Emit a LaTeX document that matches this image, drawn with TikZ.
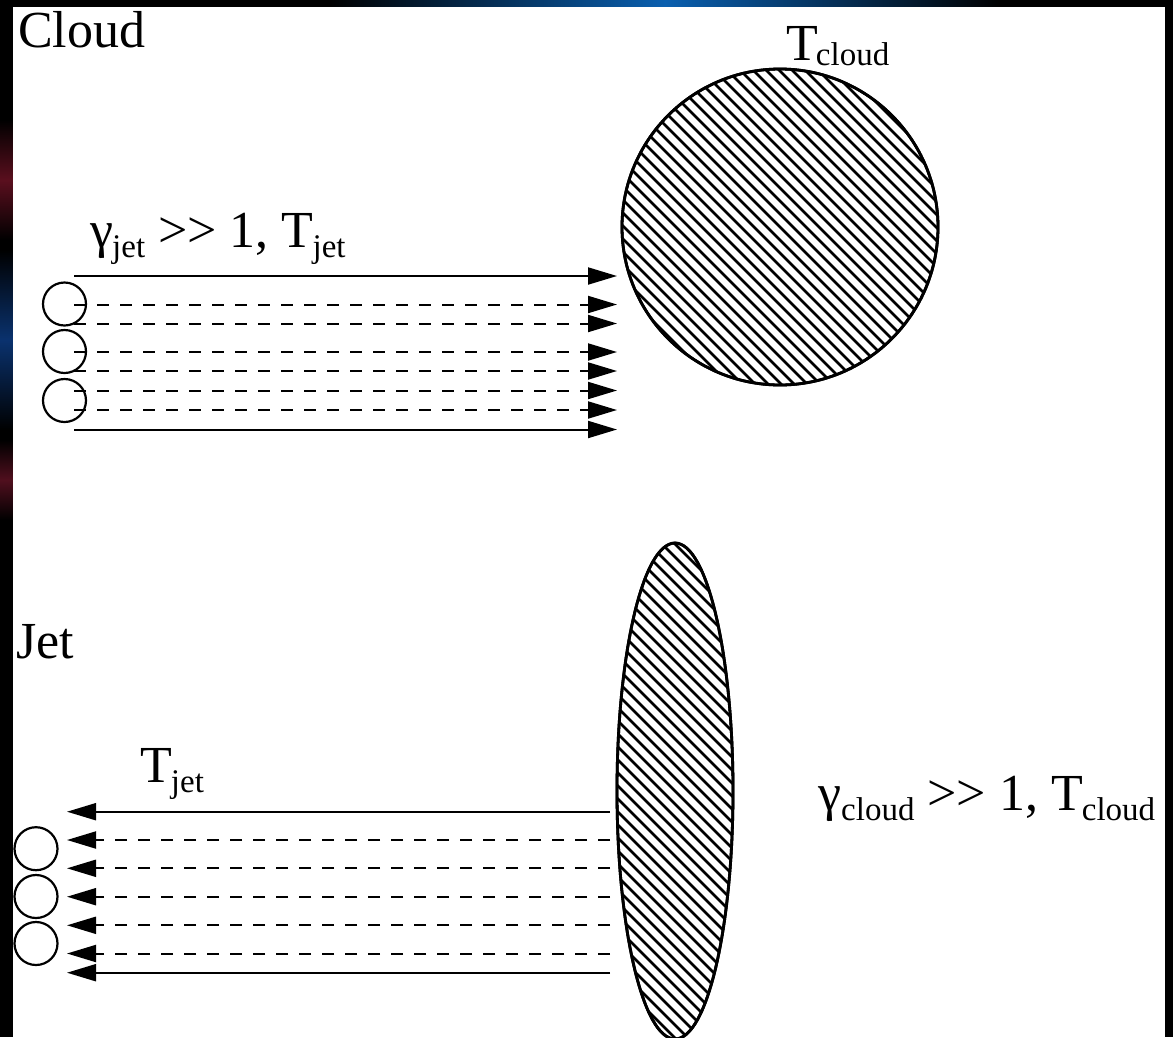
\documentclass[tikz,border=0pt]{standalone}
\usepackage{fontspec}
\setmainfont{Liberation Serif}
\usetikzlibrary{arrows.meta,shapes.geometric}
\newcommand\subtxt[2][10pt]{\raisebox{-#1}{\fontsize{33}{33}\selectfont #2}}
\begin{document}
\begin{tikzpicture}[x=1pt,y=-1pt,
  ray/.style={line width=2pt, black},
  dray/.style={ray, dash pattern=on 12pt off 11pt},
  tipped/.style={-{Triangle[length=29pt,width=17pt]}},
  bead/.style={draw, line width=2.2pt, circle, minimum size=43pt, inner sep=0pt},
  blob/.style={draw, line width=2.8pt, inner sep=0pt},
  hatch/.style={line width=2.8pt, black},
  lbl/.style={anchor=base west, inner sep=0pt, font=\fontsize{52}{52}\selectfont},
]
% background (slide frame)
\fill[black] (0,0) rectangle (1173,1037);
\shade[left color=black, right color=black, middle color={rgb,255:red,10;green,95;blue,175}] (330,0) rectangle (1000,7);
\shade[top color=black, bottom color=black, middle color={rgb,255:red,90;green,15;blue,30}] (0,120) rectangle (13,240);
\shade[top color=black, bottom color=black, middle color={rgb,255:red,10;green,50;blue,110}] (0,250) rectangle (13,430);
\shade[top color=black, bottom color=black, middle color={rgb,255:red,80;green,15;blue,30}] (0,440) rectangle (13,520);
\fill[white] (13,7) rectangle (1165,1037);
\useasboundingbox (0,0) rectangle (1173,1037);

% ---------- upper panel: cloud at rest ----------
\node[lbl] (lcloud) at (18,47) {Cloud};
\node[blob, circle, minimum size=316pt] (cloud) at (780,227) {};
\begin{scope}
  \clip (cloud.center) circle[radius=158];
  \foreach \k in {-32,...,32}
    \draw[hatch] ({780+\k*13-400},{227-400}) -- ++(800,800);
\end{scope}
\node[blob, circle, minimum size=316pt] at (cloud.center) {};
\node[lbl] (tcl) at (786,60) {T\kern-2pt\subtxt[5pt]{cloud}};
\node[lbl] (gjet) at (90,247) {γ\kern-1pt\subtxt{jet} >\kern0pt> 1, T\kern-1pt\subtxt{jet}};

\node[bead] (b1) at (64.5,304) {};
\node[bead] (b2) at (64.5,351.5) {};
\node[bead] (b3) at (64.5,400.5) {};

\foreach \y [count=\i] in {276,304.5,323.5,352,371,390.5,410,429.5} {
  \coordinate (us\i) at (74,\y);
  \coordinate (ue\i) at (617,\y);
}
\foreach \i in {1,8} \draw[ray, tipped] (us\i) -- (ue\i);
\foreach \i in {2,...,7} \draw[dray, tipped] (us\i) -- (ue\i);

% ---------- lower panel: jet at rest ----------
\node[lbl] (ljet) at (16,658) {Jet};
\node[blob, ellipse, minimum width=116pt, minimum height=496pt] (flat) at (675,791) {};
\begin{scope}
  \clip (flat.center) ellipse[x radius=58, y radius=248];
  \foreach \k in {-45,...,45}
    \draw[hatch] ({675-400},{791+\k*13-400}) -- ++(800,800);
\end{scope}
\node[blob, ellipse, minimum width=116pt, minimum height=496pt] at (flat.center) {};
\node[lbl] (tjet) at (140,782) {T\kern-1pt\subtxt{jet}};
\node[lbl] (gcl) at (818,810) {γ\subtxt{cloud} >\kern0pt> 1, T\kern-1pt\subtxt{cloud}};

\node[bead] (c1) at (36,848.7) {};
\node[bead] (c2) at (36,896.5) {};
\node[bead] (c3) at (36,943.5) {};

\foreach \y [count=\i] in {811.7,840,868.3,896.7,925.3,953.5,972.7} {
  \coordinate (ls\i) at (610,\y);
  \coordinate (le\i) at (67,\y);
}
\foreach \i in {1,7} \draw[ray, tipped] (ls\i) -- (le\i);
\foreach \i in {2,...,6} \draw[dray, tipped] (ls\i) -- (le\i);
\end{tikzpicture}
\end{document}
